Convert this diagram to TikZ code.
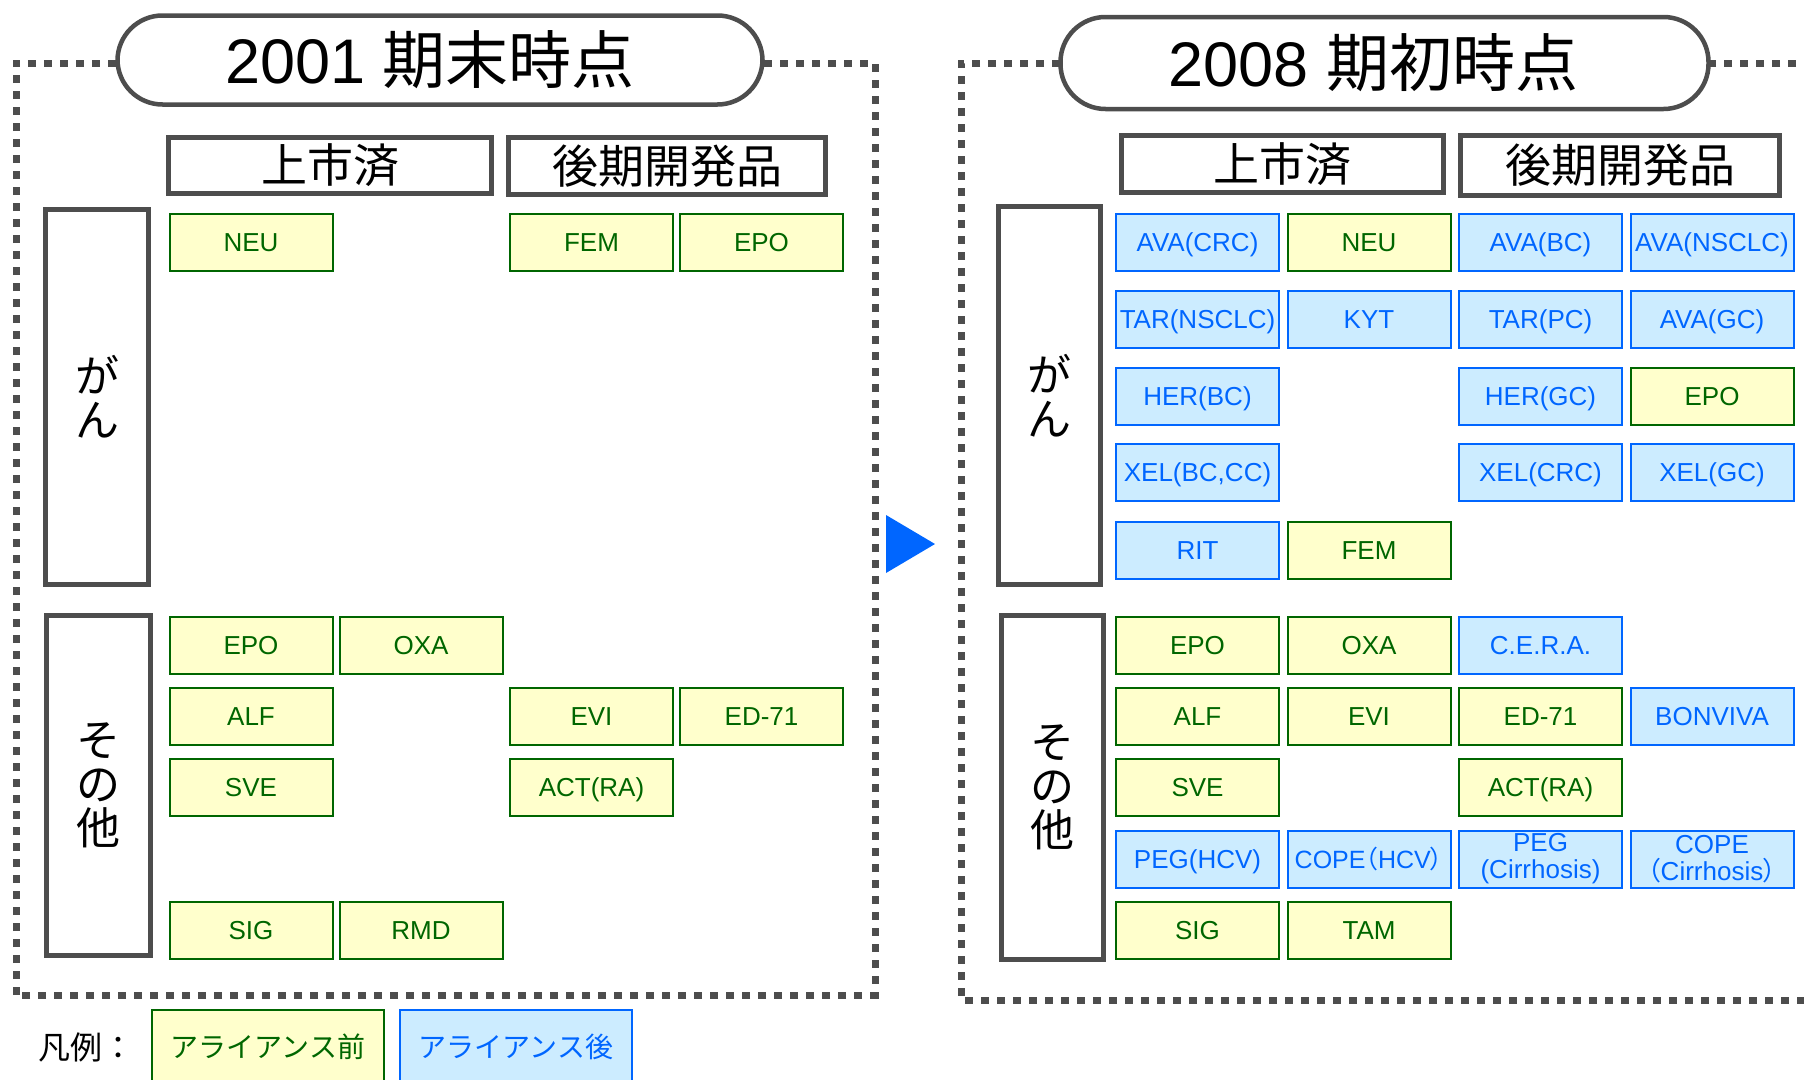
\documentclass[tikz,border=0pt]{standalone}
\usepackage{fontspec}
\setmainfont{Liberation Sans}
\newfontfamily\cjk{Noto Sans CJK JP}
\newfontfamily\cjkp[RawFeature=+palt]{Noto Sans CJK JP}
\definecolor{grn}{HTML}{006600}
\definecolor{ylw}{HTML}{FFFFCC}
\definecolor{blu}{HTML}{0066FF}
\definecolor{lblu}{HTML}{CCECFF}
\definecolor{frm}{HTML}{4D4D4D}
\tikzset{
  cellbase/.style={line width=2pt, minimum width=163pt, minimum height=57pt, inner sep=0pt, align=center, font=\fontsize{26}{27}\selectfont},
  oneline/.style={text height=18.7pt, text depth=0pt},
  cy/.style={cellbase, oneline, draw=grn, fill=ylw, text=grn},
  cb/.style={cellbase, oneline, draw=blu, fill=lblu, text=blu},
  cbtwo/.style={cellbase, draw=blu, fill=lblu, text=blu},
  dotframe/.style={draw=frm, line width=7pt, dash pattern=on 8pt off 8pt},
  pill/.style={draw=frm, fill=white, line width=4.5pt, rounded corners=45pt, inner sep=0pt, font=\fontsize{63}{63}\selectfont},
  hdr/.style={draw=frm, fill=white, line width=5pt, inner sep=0pt, font=\cjk\fontsize{46}{46}\selectfont},
  rowlab/.style={draw=frm, fill=white, line width=5pt, inner sep=0pt, align=center, font=\cjk\fontsize{44}{44}\selectfont},
  legbox/.style={line width=2pt, minimum width=232pt, minimum height=74pt, inner sep=0pt, font=\cjk\fontsize{28}{28}\selectfont}
}
\begin{document}
\begin{tikzpicture}[x=1pt,y=-1pt]
\useasboundingbox (0,0) rectangle (1804,1079);
\clip (0,0) rectangle (1804,1079);

% dotted frames
\draw[dotframe] (16,995) -- (16,63) -- (875,63) -- (875,995) -- cycle;
\draw[dotframe] (1812,63) -- (961,63) -- (961,1000) -- (1812,1000);

% titles
\node[pill, minimum width=645pt, minimum height=89pt] (t1) at (440,60) {2001 {\cjk 期末時点}\hspace*{20pt}};
\node[pill, minimum width=648pt, minimum height=92pt] (t2) at (1384.5,63) {2008 {\cjk 期初時点}\hspace*{22pt}};

% headers
\node[hdr, minimum width=323pt, minimum height=56pt] (h1) at (330,165.5) {上市済};
\node[hdr, minimum width=317pt, minimum height=57pt] (h2) at (667,166) {後期開発品};
\node[hdr, minimum width=322pt, minimum height=57pt] (h3) at (1282.5,164) {上市済};
\node[hdr, minimum width=319pt, minimum height=60pt] (h4) at (1620,165) {後期開発品};

% row labels
\node[rowlab, minimum width=103pt, minimum height=375pt] (r1) at (97,397) {が\\ん};
\node[rowlab, minimum width=104pt, minimum height=340pt] (r2) at (98.5,785.5) {そ\\の\\他};
\node[rowlab, minimum width=102pt, minimum height=378pt] (r3) at (1049.5,395.5) {が\\ん};
\node[rowlab, minimum width=102pt, minimum height=344pt] (r4) at (1052,787.5) {そ\\の\\他};

% left cells
\node[cy] (L11) at (251,242) {NEU};
\node[cy] (L13) at (591.5,242) {FEM};
\node[cy] (L14) at (761.5,242) {EPO};
\node[cy] (L61) at (251,645) {EPO};
\node[cy] (L62) at (421,645) {OXA};
\node[cy] (L71) at (251,716.5) {ALF};
\node[cy] (L73) at (591.5,716.5) {EVI};
\node[cy] (L74) at (761.5,716.5) {ED-71};
\node[cy] (L81) at (251,787.5) {SVE};
\node[cy] (L83) at (591.5,787.5) {ACT(RA)};
\node[cy] (L01) at (251,930.5) {SIG};
\node[cy] (L02) at (421,930.5) {RMD};

% arrow
\fill[blu] (886,515) -- (935,544) -- (886,573) -- cycle;

% right cells - cancer
\node[cb] (R11) at (1197.5,242) {AVA(CRC)};
\node[cy] (R12) at (1369,242) {NEU};
\node[cb] (R13) at (1540.5,242) {AVA(BC)};
\node[cb] (R14) at (1712,242) {AVA(NSCLC)};
\node[cb] (R21) at (1197.5,319) {TAR(NSCLC)};
\node[cb] (R22) at (1369,319) {KYT};
\node[cb] (R23) at (1540.5,319) {TAR(PC)};
\node[cb] (R24) at (1712,319) {AVA(GC)};
\node[cb] (R31) at (1197.5,396.5) {HER(BC)};
\node[cb] (R33) at (1540.5,396.5) {HER(GC)};
\node[cy] (R34) at (1712,396.5) {EPO};
\node[cb] (R41) at (1197.5,472.5) {XEL(BC,CC)};
\node[cb] (R43) at (1540.5,472.5) {XEL(CRC)};
\node[cb] (R44) at (1712,472.5) {XEL(GC)};
\node[cb] (R51) at (1197.5,550.5) {RIT};
\node[cy] (R52) at (1369,550.5) {FEM};

% right cells - other
\node[cy] (R61) at (1197.5,645) {EPO};
\node[cy] (R62) at (1369,645) {OXA};
\node[cb] (R63) at (1540.5,645) {C.E.R.A.};
\node[cy] (R71) at (1197.5,716.5) {ALF};
\node[cy] (R72) at (1369,716.5) {EVI};
\node[cy] (R73) at (1540.5,716.5) {ED-71};
\node[cb] (R74) at (1712,716.5) {BONVIVA};
\node[cy] (R81) at (1197.5,787.5) {SVE};
\node[cy] (R83) at (1540.5,787.5) {ACT(RA)};
\node[cb] (R91) at (1197.5,859) {PEG(HCV)};
\node[cb, font=\fontsize{25}{26}\selectfont] (R92) at (1369,859) {COPE{\cjkp （}HCV{\cjkp ）}};
\node[cbtwo] (R93) at (1540.5,859) {PEG\\(Cirrhosis)};
\node[cbtwo] (R94) at (1712,859) {COPE\\{\cjkp （}Cirrhosis{\cjkp ）}};
\node[cy] (R01) at (1197.5,930.5) {SIG};
\node[cy] (R02) at (1369,930.5) {TAM};

% legend
\node[font=\cjk\fontsize{32}{32}\selectfont, inner sep=0pt] (lg) at (86,1047) {凡例：};
\node[legbox, draw=grn, fill=ylw, text=grn] (lg1) at (268,1047) {アライアンス前};
\node[legbox, draw=blu, fill=lblu, text=blu] (lg2) at (516,1047) {アライアンス後};
\end{tikzpicture}
\end{document}
